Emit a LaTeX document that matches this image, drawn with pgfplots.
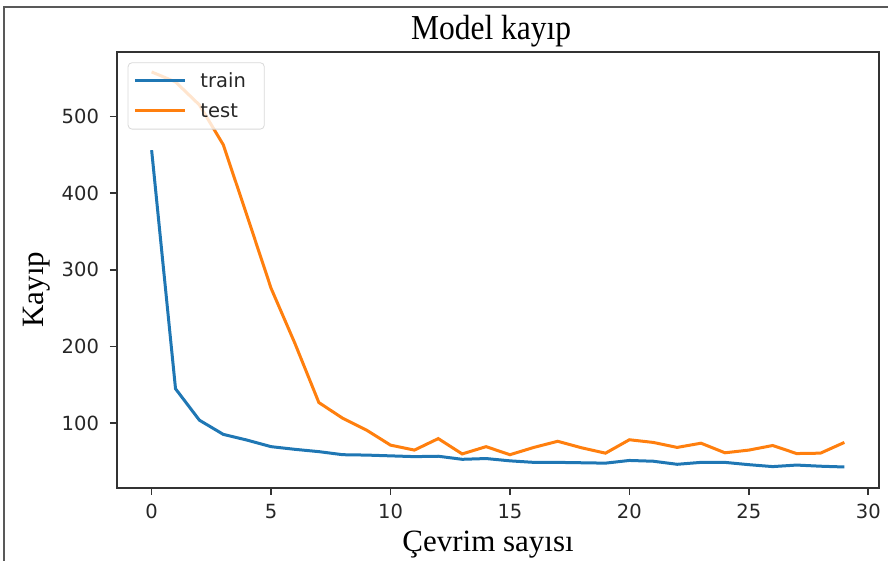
\documentclass[border=0pt]{standalone}
\usepackage{fontspec}
\setmainfont{Liberation Serif}
\newfontfamily\dejavu{DejaVu Sans}
\usepackage{pgfplots}
\pgfplotsset{compat=1.18}
\usepackage{pgfplotstable}
\definecolor{mplblue}{HTML}{1F77B4}
\definecolor{mplorange}{HTML}{FF7F0E}
\pgfplotstableread{
x y
0 456
1 145
2 104
3 85.5
4 78
5 69.5
6 66
7 63
8 59
9 58.5
10 57.5
11 56.5
12 57
13 53
14 54
15 51
16 49
17 49
18 48.5
19 48
20 51.5
21 50.5
22 46.5
23 49
24 49
25 46
26 43.5
27 45.5
28 44
29 43
}\traindata
\pgfplotstableread{
x y
0 558
1 545
2 515
3 463
4 370
5 276
6 204
7 127
8 106.5
9 91
10 71.5
11 65
12 80
13 60
14 69.5
15 59
16 68.5
17 76.5
18 68
19 61
20 78.5
21 75
22 68.5
23 74
24 61.5
25 65
26 71
27 60.5
28 61
29 75
}\testdata
\begin{document}
\begin{tikzpicture}
\useasboundingbox (-58.5pt,-36.5pt) rectangle (385.5pt,244pt);
\draw[line width=0.8pt, black!65] (-56.5pt,-40pt) -- (-56.5pt,240.5pt) -- (390pt,240.5pt);
\begin{axis}[
  scale only axis,
  width=381pt, height=218pt,
  xmin=-1.45, xmax=30.45,
  ymin=15.6, ymax=584,
  xtick={0,5,...,30},
  ytick={100,200,300,400,500},
  axis line style={line width=0.8pt, black!80},
  tick align=outside,
  major tick length=3.5pt,
  tick style={line width=0.8pt, black!80},
  xtick pos=bottom, ytick pos=left,
  /pgf/number format/assume math mode=true,
  tick label style={font=\dejavu\fontsize{9.75}{11}\selectfont, text=black!85},
  xticklabel style={yshift=-1pt},
  yticklabel style={xshift=-2pt},
  title={\scalebox{0.9}[1]{Model kayıp}},
  title style={font=\fontsize{17.5}{20}\selectfont, at={(axis description cs:0.491,1)}, anchor=base, yshift=0pt, inner sep=0pt},
  xlabel={Çevrim sayısı},
  xlabel style={font=\fontsize{15.5}{18}\selectfont, at={(axis description cs:0.487,0)}, anchor=base, yshift=-31.8pt, inner sep=0pt},
  ylabel={Kayıp},
  ylabel style={font=\fontsize{15.5}{18}\selectfont, at={(axis description cs:-0.106,0.455)}, anchor=center, inner sep=0pt},
  legend style={at={(0,1)}, anchor=north west, xshift=5.35pt, yshift=-5.15pt,
    draw=black!15, rounded corners=2pt, fill=white, fill opacity=0.8, text opacity=1,
    font=\dejavu\fontsize{9.75}{11}\selectfont, text=black!85,
    inner xsep=2.6pt, inner ysep=2.4pt, row sep=1.5pt,
    nodes={inner xsep=2.6pt, inner ysep=2.6pt, text depth=0.2ex, text height=1.6ex},
    cells={anchor=west}},
  legend cell align=left,
  legend image code/.code={\draw[#1] (0pt,0pt) -- (25pt,0pt); \path (29.5pt,0pt);},
]
\addplot[mplblue, line width=1.5pt] table[x=x,y=y] {\traindata};
\addlegendentry{train\kern4pt\null}
\addplot[mplorange, line width=1.5pt] table[x=x,y=y] {\testdata};
\addlegendentry{test}
\end{axis}
\end{tikzpicture}
\end{document}
